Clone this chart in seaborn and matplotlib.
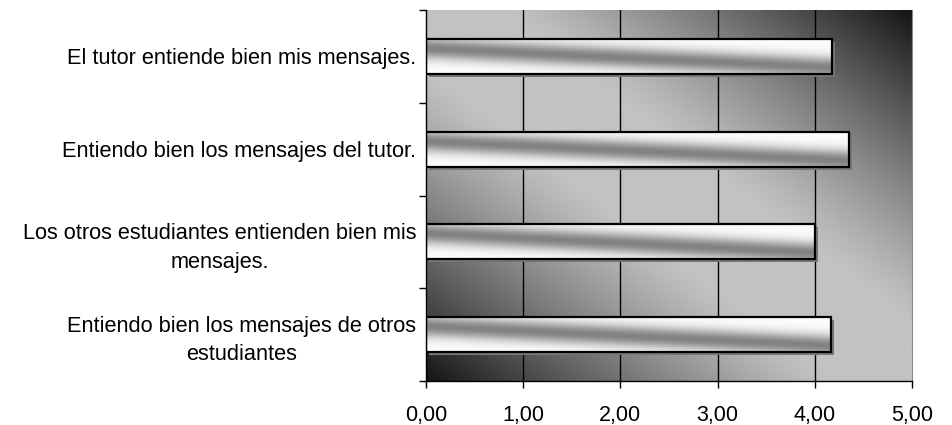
import numpy as np
import pandas as pd
import matplotlib
matplotlib.use('Agg')
import matplotlib.pyplot as plt
from matplotlib.ticker import FuncFormatter
from matplotlib.patches import Rectangle
import seaborn as sns

# Datos
preguntas = [
    'El tutor entiende bien mis mensajes.',
    'Entiendo bien los mensajes del tutor.',
    'Los otros estudiantes entienden bien mis\nmensajes.',
    'Entiendo bien los mensajes de otros\nestudiantes',
]
medias = [4.18, 4.35, 4.00, 4.17]
ticks_x = [0, 1, 2, 3, 4, 5]

df = pd.DataFrame({'pregunta': preguntas, 'media': medias})

sns.set_style('white')
plt.rcParams['font.family'] = ['Liberation Sans', 'DejaVu Sans']
plt.rcParams['text.color'] = 'black'
plt.rcParams['xtick.color'] = 'black'
plt.rcParams['ytick.color'] = 'black'

fig = plt.figure(figsize=(9.52, 4.25), dpi=100)
ax = fig.add_axes([426 / 952, 1 - 381 / 425, 486 / 952, 371 / 425])

alto = 0.38
sns.barplot(data=df, x='media', y='pregunta', orient='h', ax=ax,
            width=alto, color='white', edgecolor='black', linewidth=1.6, zorder=4)

# fondo degradado diagonal (oscuro en esquinas inferior izq. y superior der.)
u = np.linspace(0, 1, 400)
v = np.linspace(1, 0, 300)
U, V = np.meshgrid(u, v)
t = (U + V) / 2
d = np.clip((np.abs(t - 0.5) - 0.08) / 0.42, 0, 1)
fondo = 0.76 - 0.68 * d ** 1.2
ax.imshow(fondo, cmap='gray', vmin=0, vmax=1, extent=(0, 1, 0, 1),
          transform=ax.transAxes, aspect='auto', zorder=0)

# degradado metálico de cada barra
for barra in ax.patches[:len(medias)]:
    x0, y0 = barra.get_x(), barra.get_y()
    w, h = barra.get_width(), barra.get_height()
    s = np.linspace(0, 1, 300)
    r = np.linspace(0, 1, 60)
    S, R = np.meshgrid(s, r)
    c = 0.28 + 0.55 * S
    img = 0.99 - 0.48 * np.exp(-((R - c) / 0.3) ** 2)
    sombra = Rectangle((x0 + 0.03, y0 + 0.03), w, h, facecolor='#777777',
                       edgecolor='none', zorder=3)
    ax.add_patch(sombra)
    im = ax.imshow(img, cmap='gray', vmin=0, vmax=1, aspect='auto',
                   extent=(x0, x0 + w, y0 + h, y0), zorder=4.5)
    im.set_clip_path(barra)
    barra.set_facecolor('none')
    barra.set_zorder(5)

ax.set_xlim(0, 5)
ax.set_ylim(len(medias) - 0.5, -0.5)

for xv in ticks_x[1:-1]:
    ax.axvline(xv, color='black', lw=1, zorder=2)

ax.set_xticks(ticks_x)
ax.xaxis.set_major_formatter(FuncFormatter(lambda val, pos: f'{val:.2f}'.replace('.', ',')))
ax.tick_params(axis='x', direction='out', length=5, width=1, color='black',
               labelsize=15.5, pad=12, bottom=True)

ax.set_yticks(np.arange(-0.5, len(medias), 1.0))
ax.set_yticklabels([])
ax.set_yticks(np.arange(len(medias)), minor=True)
ax.set_yticklabels(preguntas, minor=True, fontsize=15.7, multialignment='center',
                   linespacing=1.45)
ax.tick_params(axis='y', which='major', direction='out', length=5, width=1,
               color='black', left=True)
ax.tick_params(axis='y', which='minor', length=0, pad=7)
for lbl in ax.get_yticklabels(minor=True):
    lbl.set_horizontalalignment('right')

ax.set_xlabel('')
ax.set_ylabel('')
ax.spines['left'].set_color('black')
ax.spines['bottom'].set_color('black')
ax.spines['left'].set_linewidth(1)
ax.spines['bottom'].set_linewidth(1)
ax.spines['right'].set_color('#888888')
ax.spines['top'].set_visible(False)
for sp in ax.spines.values():
    sp.set_zorder(6)

fig.savefig('out.png', dpi=100)
